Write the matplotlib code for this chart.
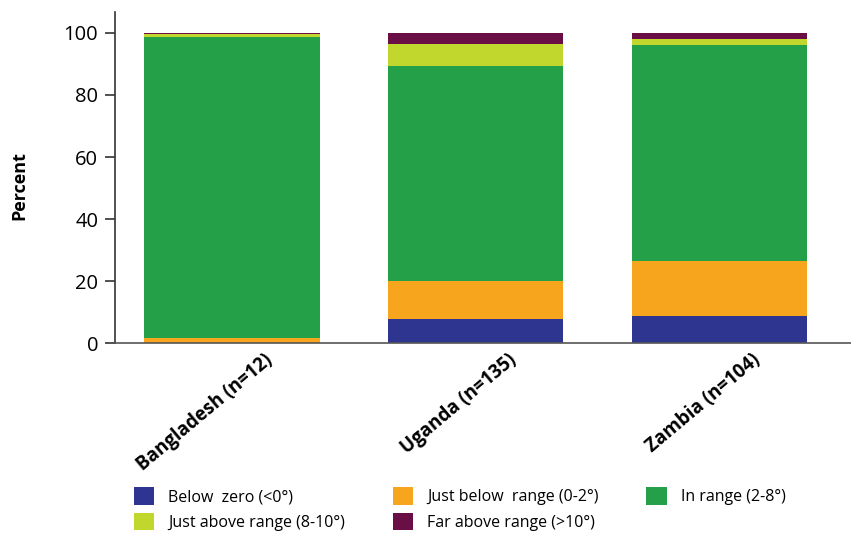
import numpy as np
import matplotlib.pyplot as plt
import matplotlib.transforms as mtransforms
from matplotlib.patches import Patch

countries = ["Bangladesh (n=12)", "Uganda (n=135)", "Zambia (n=104)"]
categories = ["Below  zero (<0°)", "Just below  range (0-2°)", "In range (2-8°)",
              "Just above range (8-10°)", "Far above range (>10°)"]
colors = ["#2e3591", "#f7a51c", "#24a048", "#c2d72e", "#6a0f45"]

below_zero = [0.0, 7.7, 8.7]
just_below = [1.6, 12.3, 17.8]
in_range = [97.1, 69.4, 69.6]
just_above = [0.8, 7.1, 2.0]
far_above = [0.5, 3.5, 1.9]
series = [below_zero, just_below, in_range, just_above, far_above]

plt.rcParams['font.family'] = ['Open Sans', 'DejaVu Sans']

fig = plt.figure(figsize=(8.51, 5.37), dpi=100)
ax = fig.add_axes([0.135, 0.361, 0.865, 0.617])

x = np.arange(len(countries))
bottom = np.zeros(len(countries))
for vals, col in zip(series, colors):
    ax.bar(x, vals, width=0.72, bottom=bottom, color=col, edgecolor='none')
    bottom = bottom + np.array(vals)

ax.set_xlim(-0.48, 2.54)
ax.set_ylim(0, 106.8)
ax.set_yticks([0, 20, 40, 60, 80, 100])
ax.tick_params(axis='y', labelsize=14.5, length=7, width=1.2, color='#333333', pad=5)
ax.tick_params(axis='x', length=0)
ax.set_xticks(x)
ax.set_xticklabels(countries, rotation=40, ha='right', rotation_mode='anchor',
                   fontsize=13.5, fontweight='bold')
# labels sit a bit right of the bar centres
shift = mtransforms.ScaledTranslation(0.32, -0.02, fig.dpi_scale_trans)
for lab in ax.get_xticklabels():
    lab.set_transform(lab.get_transform() + shift)

ax.set_ylabel("Percent", fontsize=13, fontweight='bold')
ax.yaxis.set_label_coords(-0.118, 0.477)
for s in ['top', 'right']:
    ax.spines[s].set_visible(False)
ax.spines['left'].set_color('#333333')
ax.spines['bottom'].set_color('#555555')
ax.spines['left'].set_linewidth(1.2)
ax.spines['bottom'].set_linewidth(1.2)

handles = [Patch(facecolor=c, edgecolor='none') for c in colors]
order = [0, 3, 1, 4, 2]
fig.legend([handles[i] for i in order], [categories[i] for i in order],
           loc='lower left', bbox_to_anchor=(0.14, -0.015), ncol=3,
           frameon=False, fontsize=11.5, handlelength=1.3, handleheight=1.3,
           columnspacing=3.0, handletextpad=0.85, labelspacing=0.45)

fig.savefig("out.png", dpi=100)
